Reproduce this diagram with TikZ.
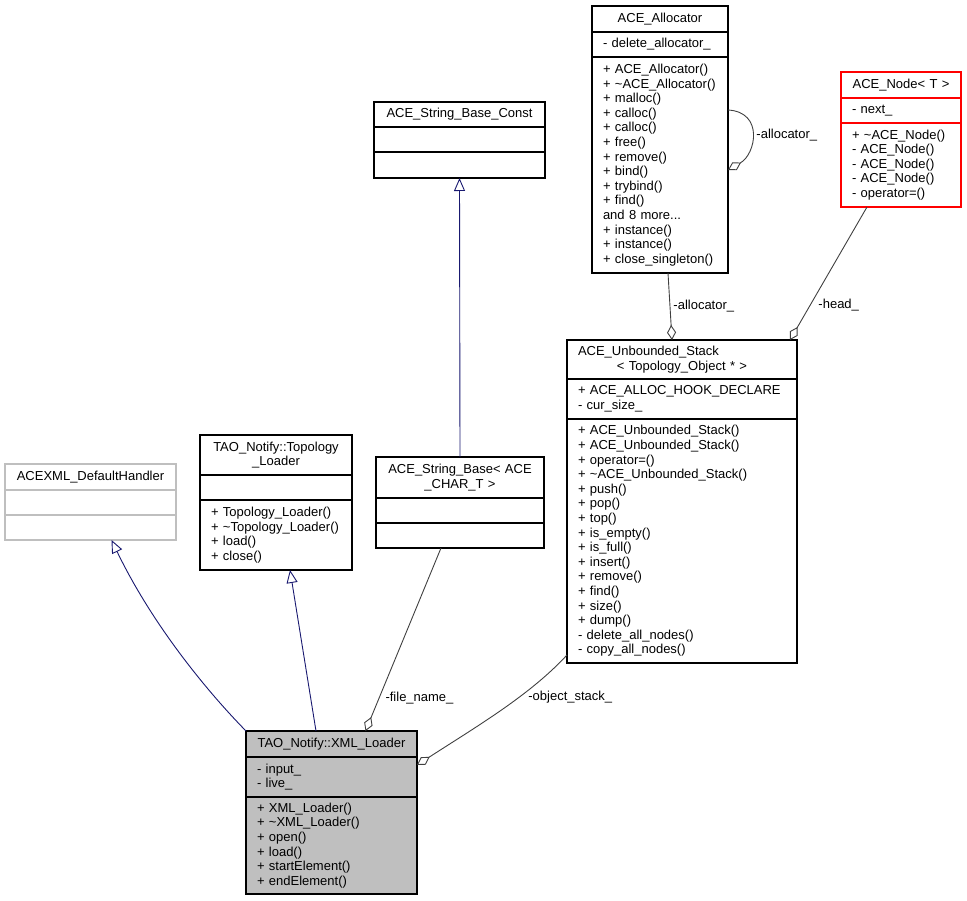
\documentclass[tikz,border=0pt]{standalone}
\usepackage{fontspec}
\setmainfont{Liberation Sans}
\usetikzlibrary{arrows.meta}

\definecolor{edgeblue}{HTML}{191970}
\definecolor{edgegray}{HTML}{404040}
\definecolor{grayfill}{HTML}{BFBFBF}
\newcommand{\umlfont}{\fontsize{13}{14.6}\selectfont\hyphenpenalty=10000\exhyphenpenalty=10000}

\tikzset{
    cls/.style={draw, line width=1.2pt, fill=white, anchor=north west, inner ysep=0pt, outer sep=0pt, font=\umlfont},
    clsname/.style={cls, align=center, inner xsep=4pt, text width=#1},
    clspart/.style={cls, align=left, inner xsep=11pt, text width=#1},
    inherit/.style={draw=edgeblue, line width=0.9pt, {Triangle[open,length=13pt,width=11pt]}-},
    assoc/.style={draw=edgegray, line width=0.9pt, -{Diamond[open,length=15pt,width=9pt]}},
    lbl/.style={font=\umlfont, inner sep=0pt, anchor=west}
}

\begin{document}
\begin{tikzpicture}[x=1pt, y=-1pt]
    \useasboundingbox (0,0) rectangle (967,901);

    % ACE_Allocator
    \node[clsname=128pt, minimum height=26pt] (alloc) at (592,6) {ACE\_Allocator};
    \node[clspart=114pt, minimum height=25pt] (alloc-a) at (alloc.south west) {- delete\_allocator\_};
    \node[clspart=114pt, minimum height=216pt] (alloc-m) at (alloc-a.south west) {+ ACE\_Allocator()\\+ \textasciitilde ACE\_Allocator()\\+ malloc()\\+ calloc()\\+ calloc()\\+ free()\\+ remove()\\+ bind()\\+ trybind()\\+ find()\\and 8 more...\\+ instance()\\+ instance()\\+ close\_singleton()};

    % ACE_Node
    \node[clsname=112pt, minimum height=26pt, draw=red] (acenode) at (841,72) {ACE\_Node< T >};
    \node[clspart=98pt, minimum height=25pt, draw=red] (acenode-a) at (acenode.south west) {- next\_};
    \node[clspart=98pt, minimum height=84pt, draw=red] (acenode-m) at (acenode-a.south west) {+ \textasciitilde ACE\_Node()\\- ACE\_Node()\\- ACE\_Node()\\- ACE\_Node()\\- operator=()};

    % ACE_Unbounded_Stack
    \node[clspart=208pt, align=center, minimum height=39pt] (stack) at (567,340) {\makebox[\linewidth][l]{ACE\_Unbounded\_Stack}\\< Topology\_Object * >};
    \node[clspart=208pt, minimum height=40pt] (stack-a) at (stack.south west) {+ ACE\_ALLOC\_HOOK\_DECLARE\\- cur\_size\_};
    \node[clspart=208pt, minimum height=244pt] (stack-m) at (stack-a.south west) {+ ACE\_Unbounded\_Stack()\\+ ACE\_Unbounded\_Stack()\\+ operator=()\\+ \textasciitilde ACE\_Unbounded\_Stack()\\+ push()\\+ pop()\\+ top()\\+ is\_empty()\\+ is\_full()\\+ insert()\\+ remove()\\+ find()\\+ size()\\+ dump()\\- delete\_all\_nodes()\\- copy\_all\_nodes()};

    % ACE_String_Base_Const
    \node[clsname=163pt, minimum height=25pt] (sbconst) at (374,102) {ACE\_String\_Base\_Const};
    \node[clspart=149pt, minimum height=25pt] (sbconst-a) at (sbconst.south west) {};
    \node[clspart=149pt, minimum height=26pt] (sbconst-m) at (sbconst-a.south west) {};

    % ACE_String_Base
    \node[clsname=160pt, minimum height=41pt] (sbase) at (376,457) {ACE\_String\_Base< ACE\\\_CHAR\_T >};
    \node[clspart=146pt, minimum height=25pt] (sbase-a) at (sbase.south west) {};
    \node[clspart=146pt, minimum height=25pt] (sbase-m) at (sbase-a.south west) {};

    % TAO_Notify::Topology_Loader
    \node[clsname=144pt, minimum height=40pt] (topo) at (200,435) {TAO\_Notify::Topology\\\_Loader};
    \node[clspart=130pt, minimum height=25pt] (topo-a) at (topo.south west) {};
    \node[clspart=130pt, minimum height=70pt] (topo-m) at (topo-a.south west) {+ Topology\_Loader()\\+ \textasciitilde Topology\_Loader()\\+ load()\\+ close()};

    % ACEXML_DefaultHandler
    \node[clsname=163pt, minimum height=26pt, draw=grayfill] (handler) at (5,464) {ACEXML\_DefaultHandler};
    \node[clspart=149pt, minimum height=25pt, draw=grayfill] (handler-a) at (handler.south west) {};
    \node[clspart=149pt, minimum height=25pt, draw=grayfill] (handler-m) at (handler-a.south west) {};

    % TAO_Notify::XML_Loader
    \node[clsname=163pt, minimum height=26pt, fill=grayfill] (xml) at (246,731) {TAO\_Notify::XML\_Loader};
    \node[clspart=149pt, minimum height=40pt, fill=grayfill] (xml-a) at (xml.south west) {- input\_\\- live\_};
    \node[clspart=149pt, minimum height=97pt, fill=grayfill] (xml-m) at (xml-a.south west) {+ XML\_Loader()\\+ \textasciitilde XML\_Loader()\\+ open()\\+ load()\\+ startElement()\\+ endElement()};

    % inheritance
    \draw[inherit] ([xshift=21pt]handler-m.south) .. controls +(38,79) and +(-45,-46) .. (xml.north west);
    \draw[inherit] ([xshift=14pt]topo-m.south) -- ([xshift=-15.5pt]xml.north);
    \draw[inherit] (sbconst-m.south) -- (sbase.north);

    % members
    \draw[assoc] ([xshift=-19pt]sbase-m.south) -- ([xshift=34pt]xml.north)
        node[lbl, pos=.82, xshift=6pt] (l-file) {-file\_name\_};
    \draw[assoc] ([yshift=8pt]stack-m.south west) .. controls +(-37,40) and +(62,-40) .. ([yshift=12pt]xml-a.east)
        node[lbl, pos=.38, xshift=9pt] (l-stack) {-object\_stack\_};
    \draw[assoc] ([xshift=8pt]alloc-m.south) -- ([xshift=-10pt]stack.north)
        node[lbl, pos=.5, xshift=3pt] (l-alloc) {-allocator\_};
    \draw[assoc] ([xshift=-34pt]acenode-m.south) -- ([xshift=108pt]stack.north)
        node[lbl, pos=.74, xshift=8pt] (l-head) {-head\_};
    \draw[assoc] ([yshift=55pt]alloc-m.east) .. controls +(36,2) and +(28,-16) .. ([yshift=-5pt]alloc-m.east)
        node[lbl, pos=.5, xshift=4pt] (l-self) {-allocator\_};
\end{tikzpicture}
\end{document}
